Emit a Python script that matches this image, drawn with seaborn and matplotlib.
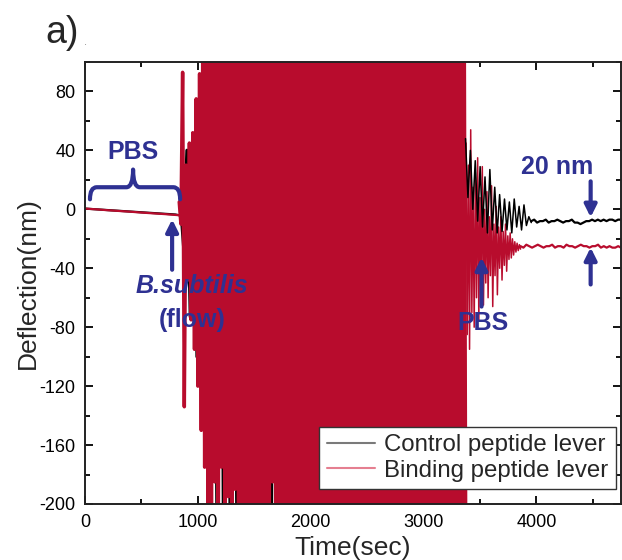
import numpy as np
import pandas as pd
import matplotlib
matplotlib.use("Agg")
import matplotlib.pyplot as plt
from matplotlib.path import Path
from matplotlib.patches import PathPatch
from matplotlib.lines import Line2D
import seaborn as sns

# ---------------- data ----------------
levers = ["Control peptide lever", "Binding peptide lever"]

pre_time = [0, 100, 200, 300, 400, 500, 600, 700, 800, 835]
control_pre = [0.5, 0.0, -0.5, -1.0, -1.5, -2.0, -2.5, -3.0, -3.5, -4.0]
binding_pre = [0.5, 0.0, -0.6, -1.1, -1.6, -2.2, -2.7, -3.2, -3.8, -4.0]

# oscillation while B.subtilis flows (peak values, alternating)
binding_osc = [
    5, -10, 93, -134, 30, -48, 45, -75, 52, -95,
    75, -120, 92, -150, 150, -175, 150, -200, 150, -215,
    150, -185, 150, -240, 150, -175, 150, -250, 150, -195,
    150, -260, 150, -190, 150, -250, 110, -260, 150, -205,
    150, -250, 150, -260, 150, -205, 150, -250, 120, -260,
    150, -230, 150, -260, 150, -185, 150, -260, 150, -250,
    150, -260, 150, -260, 130, -260, 150, -250, 150, -260,
    150, -260, 150, -230, 150, -260, 150, -260, 150, -260,
    120, -260, 150, -260, 150, -260, 150, -210, 150, -260,
    150, -260, 150, -260, 150, -260, 150, -260, 140, -260,
    150, -260, 150, -260, 150, -240, 150, -260, 150, -260,
    150, -260, 150, -260, 150, -260, 125, -260, 150, -260,
    150, -260, 150, -260, 150, -260, 150, -260, 150, -220,
    150, -260, 150, -260, 150, -260, 150, -260, 150, -260,
    150, -260, 150, -260, 135, -260, 150, -260, 150, -260,
    150, -260, 150, -245, 150, -260, 150, -260, 150, -260,
    150, -260, 150, -260, 150, -260, 150, -260, 150, -260,
]
control_osc = [
    6, -25, 40, -73, 45, -100, 80, -140, 150, -190,
    150, -230, 150, -260, 150, -260, 150, -260, 150, -260,
    150, -260, 150, -260, 150, -260, 150, -260, 150, -260,
    150, -260, 150, -260, 150, -260, 150, -260, 150, -260,
    150, -260, 150, -260, 150, -260, 150, -260, 150, -260,
    150, -260, 150, -260, 150, -260, 150, -260, 150, -260,
    150, -260, 150, -260, 150, -260, 150, -260, 150, -260,
    150, -260, 150, -260, 150, -260, 150, -260, 150, -260,
    150, -260, 150, -260, 150, -260,
]

# ring-down after PBS flow resumes
binding_decay = [
    45, -85, 30, -95, 54, -70, 15, -80, 25, -60,
    35, -75, 8, -55, 29, -65, 0, -50, 12, -60,
    -5, -45, 16, -66, -10, -45, 2, -58, -12, -40,
    -5, -48, -15, -38, -10, -42, -18, -34, -16, -33,
    -20, -31, -22, -29, -23, -28, -24, -27,
]
control_decay = [
    48, 8, 40, 0, 33, -8, 29, -12, 22, -16,
    27, -14, 15, -16, 10, -15, 7, -14, 5, -16,
    7, -12, 2, -14, 3, -11, -5, -9,
]

# settled baseline
binding_tail = [
    -25, -26, -24, -25, -26, -25, -24, -25, -26, -25,
    -25, -24, -26, -25, -25, -26, -24, -25, -25, -26,
    -25, -24, -25, -25, -26, -25, -25, -24, -26, -25,
    -26, -25, -26, -26, -25, -26,
]
control_tail = [
    -8, -7, -9, -8, -8, -7, -9, -8, -8, -7,
    -8, -9, -8, -8, -7, -9, -9, -10, -9, -8,
    -8, -7, -8, -7, -8, -7, -8, -7, -7, -8,
    -7, -7,
]

xticks = [0, 1000, 2000, 3000, 4000]
yticks = [-200, -160, -120, -80, -40, 0, 40, 80]

# ---------------- assemble tables ----------------
def seg(vals, t0, t1):
    return list(np.linspace(t0, t1, len(vals)))

def table(ct, cv, bt, bv):
    return pd.DataFrame({
        "time": list(ct) + list(bt),
        "deflection": list(cv) + list(bv),
        "lever": [levers[0]] * len(ct) + [levers[1]] * len(bt),
    })

df_pre = table(pre_time, control_pre, pre_time, binding_pre)
df_osc = table(seg(control_osc, 845, 3370), control_osc,
               seg(binding_osc, 835, 3375), binding_osc)
df_decay = table(seg(control_decay, 3372, 3955), control_decay,
                 seg(binding_decay, 3377, 3860), binding_decay)
df_tail = table(seg(control_tail, 3955, 4750), control_tail,
                seg(binding_tail, 3860, 4750), binding_tail)

# ---------------- style ----------------
sns.set_theme(style="ticks")
plt.rcParams["font.family"] = ["Liberation Sans", "DejaVu Sans"]
plt.rcParams["axes.unicode_minus"] = False
plt.rcParams["path.simplify"] = False

RED = "#b80c2d"
BLUE = "#2e3192"
pal = {levers[0]: "black", levers[1]: RED}

fig = plt.figure(figsize=(6.22, 5.6), dpi=100)
ax = fig.add_axes([85 / 622, 56 / 560, 536 / 622, 442 / 560])

common = dict(x="time", y="deflection", hue="lever", palette=pal,
              estimator=None, sort=False, ax=ax, legend=False)
sns.lineplot(data=df_pre, hue_order=levers, lw=1.6, **common)
sns.lineplot(data=df_osc, hue_order=levers, lw=2.5, **common)
sns.lineplot(data=df_decay, hue_order=levers[::-1], lw=1.1, **common)
sns.lineplot(data=df_tail, hue_order=levers[::-1], lw=1.6, **common)

ax.set_xlim(0, 4750)
ax.set_ylim(-200, 100)
ax.set_xticks(xticks)
ax.set_yticks(yticks)
ax.set_xticks(np.arange(500, 4750, 1000), minor=True)
ax.set_yticks(np.arange(-180, 101, 40), minor=True)
ax.tick_params(which="both", direction="in", top=True, right=True, width=1.3,
               labelsize=13, colors="black", pad=7)
ax.tick_params(which="major", length=6)
ax.tick_params(which="minor", length=3.5)
for s in ax.spines.values():
    s.set_linewidth(1.4)
    s.set_color("#222222")

ax.set_xlabel("Time(sec)", fontsize=19)
ax.set_ylabel("Deflection(nm)", fontsize=19)
ax.xaxis.set_label_coords(0.5, -0.072)
ax.yaxis.set_label_coords(-0.085, 0.5)

# legend
handles = [Line2D([], [], color="#7a7a7a", lw=1.5), Line2D([], [], color="#e57f90", lw=1.5)]
leg = ax.legend(handles, levers, loc="lower right", bbox_to_anchor=(0.99, 0.034),
                fontsize=17.3, frameon=True, fancybox=False, framealpha=1,
                handlelength=2.0, handletextpad=0.4, labelspacing=0.15,
                borderpad=0.3, borderaxespad=0)
leg.get_frame().set_edgecolor("#333333")
leg.get_frame().set_linewidth(1.0)
leg.set_zorder(5)

# annotations
tkw = dict(color=BLUE, fontsize=18, fontweight="bold", ha="center", va="center", zorder=6)
ax.text(426, 39, "PBS", **tkw)
ax.text(950, -52, "B.subtilis", style="italic", **tkw)
ax.text(950, -75, "(flow)", **tkw)
ax.text(3523, -77, "PBS", **tkw)
ax.text(4188, 28.6, "20 nm", **tkw)

akw = dict(arrowstyle="-|>", lw=3, color=BLUE, mutation_scale=18, shrinkA=0, shrinkB=0)
for (x, y0, y1) in [(772, -41, -6.8), (3514, -66, -32.7), (4481, 19, -5.4), (4481, -51, -25.9)]:
    ax.annotate("", xy=(x, y1), xytext=(x, y0), arrowprops=akw, zorder=6)

# curly brace over the initial PBS period
xl, xm, xr = 44, 426, 843
yb, yh, yt = 6.8, 15, 27
rx = 60
verts = [(xl, yb), (xl, yh), (xl + rx, yh),
         (xm - rx, yh), (xm, yh), (xm, yt),
         (xm, yh), (xm + rx, yh),
         (xr - rx, yh), (xr, yh), (xr, yb)]
codes = [Path.MOVETO, Path.CURVE3, Path.CURVE3,
         Path.LINETO, Path.CURVE3, Path.CURVE3,
         Path.CURVE3, Path.CURVE3,
         Path.LINETO, Path.CURVE3, Path.CURVE3]
ax.add_patch(PathPatch(Path(verts, codes), fill=False, edgecolor=BLUE, lw=3, zorder=6,
                       capstyle="round", joinstyle="round"))

fig.text(45 / 622, 1 - 43 / 560, "a)", fontsize=27, va="baseline", ha="left")
fig.text(84 / 622, 1 - 45 / 560, ".", fontsize=8, va="baseline", ha="left", color="#888888")

fig.savefig("out.png", dpi=100)
